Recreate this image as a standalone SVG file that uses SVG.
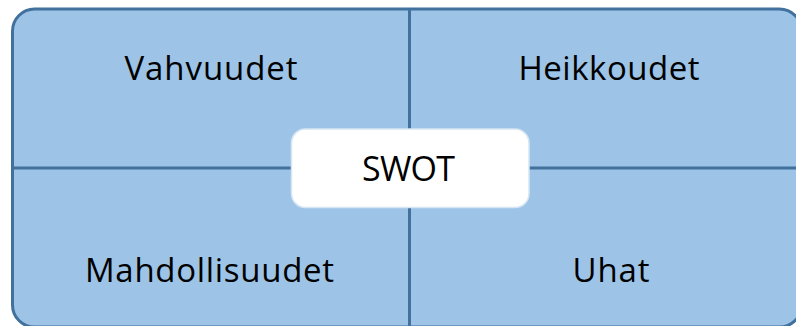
<svg xmlns="http://www.w3.org/2000/svg" width="796" height="326" viewBox="0 0 796 326">
  <style>
    .frame { fill: #9DC3E6; stroke: #41719C; stroke-width: 3; }
    .divider { stroke: #41719C; stroke-width: 3; fill: none; }
    .label { font-family: "Open Sans", "Liberation Sans", sans-serif; font-size: 33px; fill: #000000; text-anchor: middle; }
    .center-box { fill: #FFFFFF; stroke: #D6E6F4; stroke-width: 1.5; }
    .center-label { font-family: "Open Sans", "Liberation Sans", sans-serif; font-size: 34px; fill: #000000; text-anchor: middle; }
  </style>
  <rect width="796" height="326" fill="#FFFFFF"/>
  <g id="frame">
    <rect class="frame" x="12.5" y="9" width="789" height="318" rx="22" ry="22"/>
  </g>
  <g id="dividers">
    <line class="divider" x1="409.5" y1="9" x2="409.5" y2="327"/>
    <line class="divider" x1="12.5" y1="168" x2="801" y2="168"/>
  </g>
  <g id="vahvuudet">
    <text class="label" x="211" y="80" textLength="173" lengthAdjust="spacing">Vahvuudet</text>
  </g>
  <g id="heikkoudet">
    <text class="label" x="609" y="80" textLength="181" lengthAdjust="spacing">Heikkoudet</text>
  </g>
  <g id="mahdollisuudet">
    <text class="label" x="209.5" y="282" textLength="249" lengthAdjust="spacing">Mahdollisuudet</text>
  </g>
  <g id="uhat">
    <text class="label" x="611" y="282" textLength="77" lengthAdjust="spacing">Uhat</text>
  </g>
  <g id="swot">
    <rect class="center-box" x="291.5" y="129" width="237.5" height="78.5" rx="14" ry="14"/>
    <text class="center-label" x="408.5" y="181" textLength="93" lengthAdjust="spacing">SWOT</text>
  </g>
</svg>
